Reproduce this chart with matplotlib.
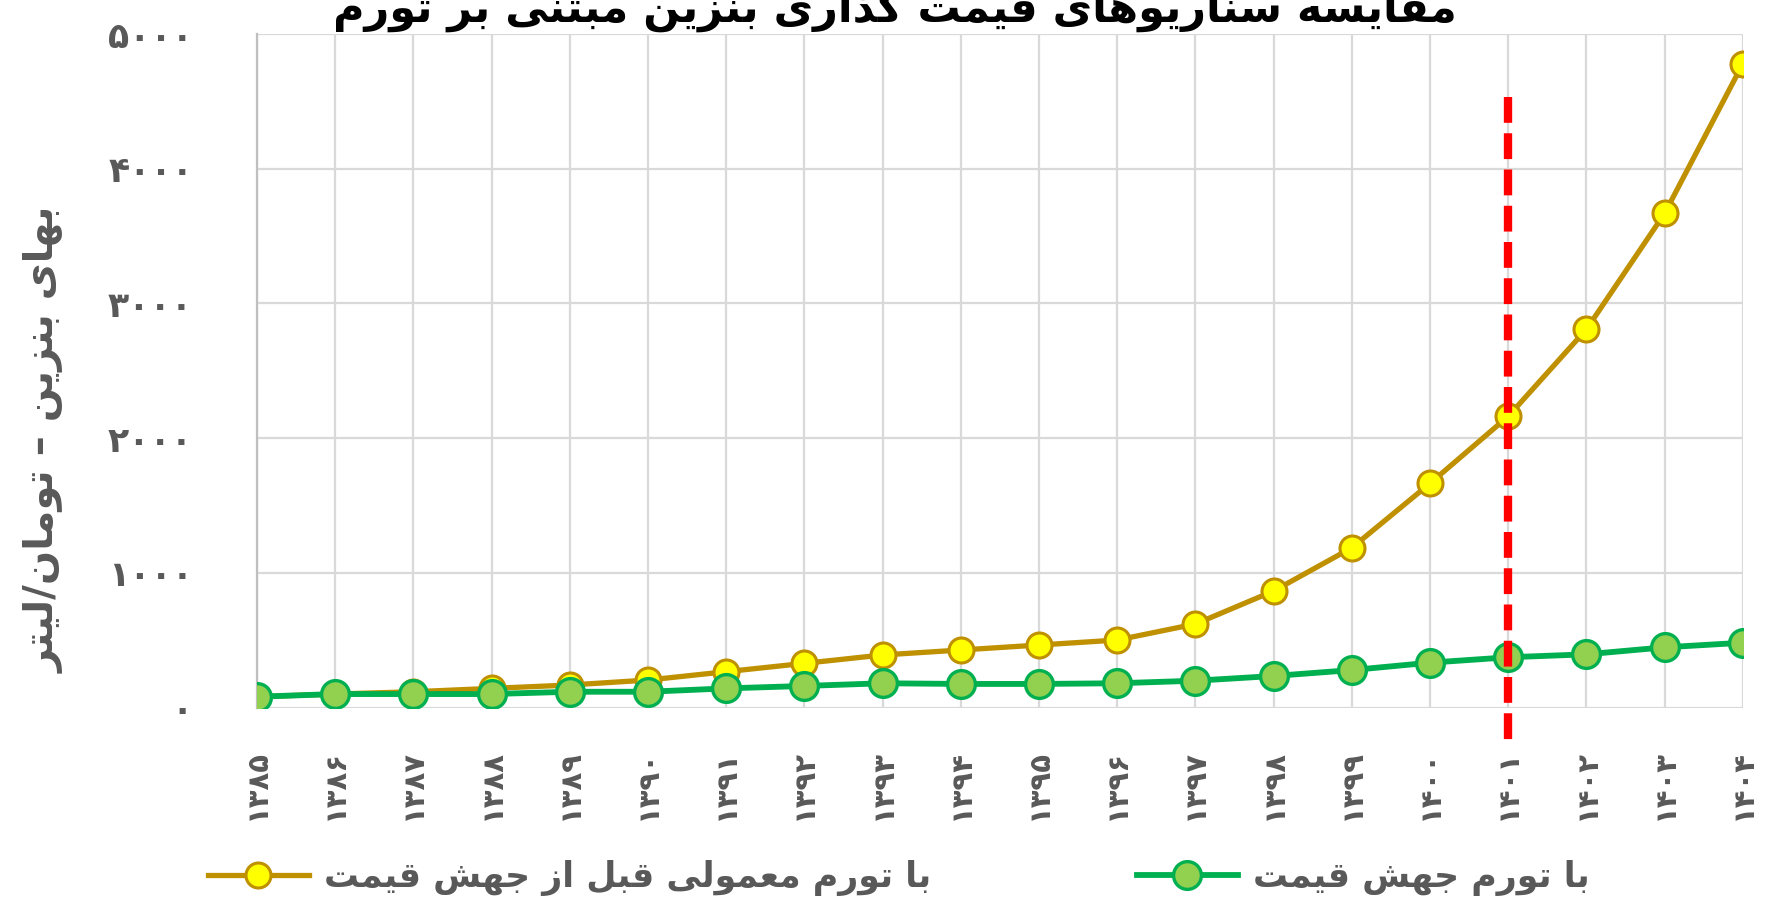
import matplotlib
matplotlib.use("Agg")
import matplotlib.pyplot as plt
from matplotlib.lines import Line2D

# years (solar hijri) and gasoline price per litre, toman
years = [1385, 1386, 1387, 1388, 1389, 1390, 1391, 1392, 1393, 1394,
         1395, 1396, 1397, 1398, 1399, 1400, 1401, 1402, 1403, 1404]
normal_inflation = [80, 100, 117, 142, 167, 204, 266, 328, 390, 427,
                    464, 501, 620, 865, 1186, 1664, 2162, 2808, 3669, 4780]
jump_inflation = [80, 100, 100, 100, 117, 117, 142, 160, 180, 175,
                  175, 180, 199, 234, 278, 333, 373, 395, 447, 481]
y_ticks = [0, 1000, 2000, 3000, 4000, 5000]

cutoff_year = 1401
cutoff_span = (4535, -260)

title = "مقایسه سناریوهای قیمت گذاری بنزین مبتنی بر تورم"
y_label = "بهای بنزین – تومان/لیتر"
label_normal = "با تورم معمولی قبل از جهش قیمت"
label_jump = "با تورم جهش قیمت"

# contextual forms: isolated, final, initial, medial
FORMS = {
    'ا': ('\uFE8D', '\uFE8E', None, None),
    'ب': ('\uFE8F', '\uFE90', '\uFE91', '\uFE92'),
    'ت': ('\uFE95', '\uFE96', '\uFE97', '\uFE98'),
    'ج': ('\uFE9D', '\uFE9E', '\uFE9F', '\uFEA0'),
    'د': ('\uFEA9', '\uFEAA', None, None),
    'ذ': ('\uFEAB', '\uFEAC', None, None),
    'ر': ('\uFEAD', '\uFEAE', None, None),
    'ز': ('\uFEAF', '\uFEB0', None, None),
    'س': ('\uFEB1', '\uFEB2', '\uFEB3', '\uFEB4'),
    'ش': ('\uFEB5', '\uFEB6', '\uFEB7', '\uFEB8'),
    'ع': ('\uFEC9', '\uFECA', '\uFECB', '\uFECC'),
    'ق': ('\uFED5', '\uFED6', '\uFED7', '\uFED8'),
    'ل': ('\uFEDD', '\uFEDE', '\uFEDF', '\uFEE0'),
    'م': ('\uFEE1', '\uFEE2', '\uFEE3', '\uFEE4'),
    'ن': ('\uFEE5', '\uFEE6', '\uFEE7', '\uFEE8'),
    'ه': ('\uFEE9', '\uFEEA', '\uFEEB', '\uFEEC'),
    'و': ('\uFEED', '\uFEEE', None, None),
    'ی': ('\uFBFC', '\uFBFD', '\uFBFE', '\uFBFF'),
    'گ': ('\uFB92', '\uFB93', '\uFB94', '\uFB95'),
}


def fa(text):
    # join letters and flip to visual order, since matplotlib does no shaping
    out = []
    for i, ch in enumerate(text):
        if ch not in FORMS:
            out.append(ch)
            continue
        prev = text[i - 1] if i > 0 else ''
        nxt = text[i + 1] if i + 1 < len(text) else ''
        iso, fin, ini, med = FORMS[ch]
        join_prev = prev in FORMS and FORMS[prev][2] is not None
        join_next = ini is not None and nxt in FORMS
        if join_prev and join_next:
            out.append(med)
        elif join_prev:
            out.append(fin)
        elif join_next:
            out.append(ini)
        else:
            out.append(iso)
    return ''.join(reversed(out))


def fa_digits(n):
    return str(n).translate(str.maketrans('0123456789', '۰۱۲۳۴۵۶۷۸۹'))


plt.rcParams['font.family'] = ['DejaVu Sans']
plt.rcParams['font.weight'] = 'bold'

gray = '#595959'
gold, yellow = '#BF9000', '#FFFF00'
green, lime = '#00B050', '#92D050'

fig = plt.figure(figsize=(17.66, 9.08), dpi=100)
ax = fig.add_axes([0.1455, 0.2208, 0.8414, 0.7417])

x = list(range(len(years)))
ax.plot(x, normal_inflation, color=gold, lw=3.8, marker='o', ms=18,
        mfc=yellow, mec=gold, mew=2.2, zorder=3)
ax.plot(x, jump_inflation, color=green, lw=4.2, marker='o', ms=20,
        mfc=lime, mec=green, mew=2.4, zorder=4)

cx = years.index(cutoff_year)
ax.plot([cx, cx], cutoff_span, color='#FF0000', lw=6, dashes=(3.1, 1.25),
        clip_on=False, zorder=5)

ax.set_xlim(0, len(years) - 1)
ax.set_ylim(y_ticks[0], y_ticks[-1])
ax.set_xticks(x)
ax.set_xticklabels([fa_digits(y) for y in years], rotation=90,
                   fontsize=21, color=gray, fontweight='bold')
ax.set_yticks(y_ticks)
ax.set_yticklabels([fa_digits(v) for v in y_ticks], fontsize=25,
                   color=gray, fontweight='bold')
ax.tick_params(axis='x', length=0, pad=30)
ax.tick_params(axis='y', length=0, pad=46)
ax.grid(True, color='#D9D9D9', lw=1.6)
ax.set_axisbelow(True)
for side in ['top', 'right', 'bottom']:
    ax.spines[side].set_visible(False)
ax.spines['left'].set_color('#BFBFBF')
ax.spines['left'].set_linewidth(1.6)

fig.text(895 / 1766, 1 - 22 / 908, fa(title), ha='center', va='baseline',
         fontsize=31, fontweight='bold', color='black')
fig.text(45 / 1766, 1 - 440 / 908, fa(y_label), rotation=90, ha='center',
         va='center', fontsize=29, fontweight='bold', color=gray)

h_normal = Line2D([], [], color=gold, lw=3.8, marker='o', ms=18,
                  mfc=yellow, mec=gold, mew=2.2)
h_jump = Line2D([], [], color=green, lw=4.2, marker='o', ms=20,
                mfc=lime, mec=green, mew=2.4)
for handle, label, left in [(h_normal, label_normal, 208),
                            (h_jump, label_jump, 1137)]:
    leg = fig.legend([handle], [fa(label)], loc='center left',
                     bbox_to_anchor=(left / 1766, 1 - 878 / 908),
                     frameon=False, borderpad=0, borderaxespad=0,
                     handlelength=2.9, handletextpad=0.45,
                     prop={'size': 25, 'weight': 'bold'})
    for t in leg.get_texts():
        t.set_color(gray)

fig.savefig('out.png', dpi=100)
